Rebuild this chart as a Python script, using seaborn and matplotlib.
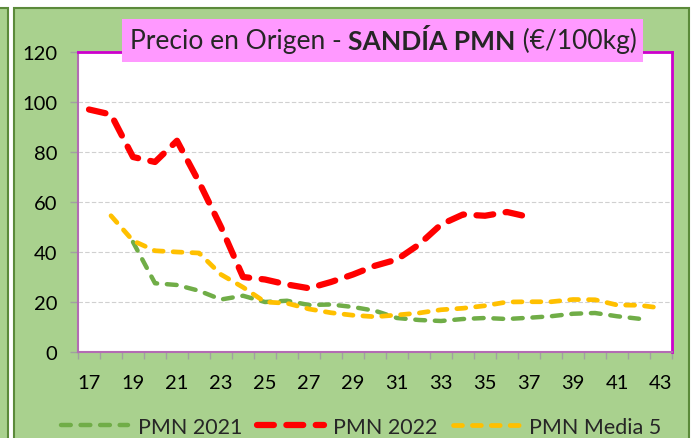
import pandas as pd
import matplotlib.pyplot as plt
import matplotlib.patches as mpatches
import seaborn as sns

# Week numbers and prices (€/100kg)
weeks_2021 = list(range(19, 43))
pmn_2021 = [44, 27.5, 26.8, 24.5, 21, 22.5, 20, 20.5, 18.8, 19, 18, 16.5,
            13.6, 12.8, 12.4, 13.2, 13.6, 13.2, 13.7, 14.3, 15.3, 15.6, 14.3, 13.3]

weeks_2022 = list(range(17, 38))
pmn_2022 = [97, 95, 78, 76, 84.5, 68, 50, 30, 29, 27, 25.5, 28, 31, 34.5,
            37, 43, 51, 55, 54.5, 56, 54]

weeks_media = list(range(18, 44))
pmn_media = [54.5, 44.5, 40.5, 40, 39.6, 31, 25.9, 20, 19.5, 17.2, 15.7, 14.7,
             14.1, 14.8, 15.6, 16.9, 17.5, 18.5, 20, 20.1, 20.1, 21, 20.9, 18.8,
             18.7, 17.6]

series_names = ["PMN 2021", "PMN 2022", "PMN Media 5"]
week_labels = list(range(17, 44, 2))

df = pd.concat([
    pd.DataFrame({"semana": weeks_2021, "precio": pmn_2021, "serie": series_names[0]}),
    pd.DataFrame({"semana": weeks_2022, "precio": pmn_2022, "serie": series_names[1]}),
    pd.DataFrame({"semana": weeks_media, "precio": pmn_media, "serie": series_names[2]}),
])

sns.set_theme(style="white")
plt.rcParams['font.family'] = ['Lato', 'DejaVu Sans']

fig = plt.figure(figsize=(6.95, 4.39), dpi=100)
fig.patch.set_facecolor("white")

# green panels behind the chart
green = "#a9d18e"
edge = "#5b8a3a"
fig.patches.append(mpatches.Rectangle((-0.02, -0.05), 0.032, 1.03, transform=fig.transFigure,
                                      facecolor=green, edgecolor=edge, lw=1.5, zorder=-2))
fig.patches.append(mpatches.Rectangle((14 / 695, -0.05), 675 / 695, 1.03 - 9 / 439 + 0.02,
                                      transform=fig.transFigure, facecolor=green,
                                      edgecolor=edge, lw=1.5, zorder=-2))

ax = fig.add_axes([78 / 695, 1 - 353 / 439, 594 / 695, 300 / 439])
ax.set_facecolor("white")

styles = {
    "PMN 2021": dict(color="#70ad47", lw=3.2, dash=(2.2, 2.2)),
    "PMN 2022": dict(color="#ff0000", lw=4.5, dash=(2.7, 2.0)),
    "PMN Media 5": dict(color="#ffc000", lw=3.4, dash=(1.9, 2.1)),
}

handles = []
for name in series_names:
    st = styles[name]
    sub = df[df["serie"] == name]
    n_before = len(ax.lines)
    sns.lineplot(data=sub, x="semana", y="precio", ax=ax, color=st["color"],
                 linewidth=st["lw"], linestyle=(0, st["dash"]), legend=False)
    line = ax.lines[n_before]
    line.set_dash_capstyle("round")
    line.set_solid_joinstyle("round")
    line.set_dash_joinstyle("round")
    handles.append(line)

ax.set_xlim(16.5, 43.5)
ax.set_ylim(0, 120)
ax.set_yticks(range(0, 121, 20))
ax.set_xticks(week_labels)
ax.set_xticks([w + 0.5 for w in range(16, 44)], minor=True)
ax.set_xlabel("")
ax.set_ylabel("")
ax.yaxis.grid(True, color="#d0d0d0", linestyle=(0, (4, 2)), lw=0.8)
ax.set_axisbelow(True)

ax.tick_params(axis="y", which="major", length=6, width=1, color="#a0a0a0",
               labelsize=14.5, pad=9, left=True, labelcolor="black")
ax.tick_params(axis="x", which="major", length=0, labelsize=14.5, pad=16, labelcolor="black")
ax.tick_params(axis="x", which="minor", length=5, width=1, color="#a0a0a0", bottom=True)

for side in ["left", "bottom"]:
    ax.spines[side].set_color("#b36bb3")
    ax.spines[side].set_linewidth(1.5)
for side in ["top", "right"]:
    ax.spines[side].set_color("#cc00cc")
    ax.spines[side].set_linewidth(2)

# title box on an overlay axes so it sits above the plot frame
tax = fig.add_axes([0, 0, 1, 1], zorder=10)
tax.axis("off")
tax.set_xlim(0, 1)
tax.set_ylim(0, 1)
tax.add_patch(mpatches.Rectangle((122 / 695, 1 - 63 / 439), 521 / 695, 43 / 439,
                                 facecolor="#ff99ff", edgecolor="none"))
t1 = tax.text(130 / 695, 1 - 42 / 439, "Precio en Origen - ", fontsize=19,
              va="center", ha="left")
t2 = tax.annotate("SANDÍA PMN", xy=(1, 0), xycoords=t1, va="bottom", ha="left",
                  fontsize=19, fontweight="bold")
t3 = tax.annotate(" (€/100kg)", xy=(1, 0), xycoords=t2, va="bottom", ha="left",
                  fontsize=19)

fig.legend(handles, series_names, loc="center", bbox_to_anchor=(0.52, 0.025),
           bbox_transform=fig.transFigure, ncol=3, frameon=False, fontsize=15.5,
           handlelength=3.1, handletextpad=0.45, columnspacing=0.7, borderaxespad=0)

fig.savefig("out.png", dpi=100)
